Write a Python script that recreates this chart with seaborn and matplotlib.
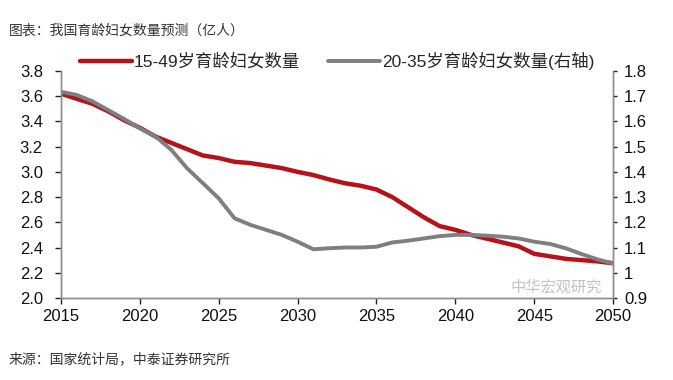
import pandas as pd
import seaborn as sns
import matplotlib.pyplot as plt

# data (亿人)
years = list(range(2015, 2051))
women_15_49 = [3.62, 3.58, 3.54, 3.48, 3.41, 3.35, 3.28, 3.23, 3.18, 3.13,
               3.11, 3.08, 3.07, 3.05, 3.03, 3.00, 2.975, 2.94, 2.91, 2.89,
               2.86, 2.80, 2.72, 2.64, 2.57, 2.54, 2.50, 2.47, 2.44, 2.41,
               2.35, 2.33, 2.31, 2.30, 2.29, 2.275]
women_20_35 = [1.718, 1.705, 1.68, 1.645, 1.61, 1.573, 1.54, 1.487, 1.414, 1.355,
               1.295, 1.216, 1.19, 1.17, 1.15, 1.123, 1.093, 1.097, 1.10, 1.10,
               1.103, 1.12, 1.127, 1.136, 1.145, 1.15, 1.15, 1.147, 1.143, 1.136,
               1.123, 1.114, 1.097, 1.074, 1.053, 1.037]

label_left = "15-49岁育龄妇女数量"
label_right = "20-35岁育龄妇女数量(右轴)"
title = "图表：我国育龄妇女数量预测（亿人）"
source = "来源：国家统计局，中泰证券研究所"

df = pd.DataFrame({"year": years, "a": women_15_49, "b": women_20_35})

sns.set_style("white")
plt.rcParams['font.family'] = ['Liberation Sans', 'Noto Sans CJK SC', 'DejaVu Sans']

fig = plt.figure(figsize=(6.73, 3.8), dpi=100)
ax = fig.add_axes([0.0906, 0.216, 0.8204, 0.597])
ax2 = ax.twinx()

red = "#B5121B"
grey = "#7F7F7F"
sns.lineplot(data=df, x="year", y="a", ax=ax, color=red, linewidth=3.2, label=label_left, legend=False)
sns.lineplot(data=df, x="year", y="b", ax=ax2, color=grey, linewidth=2.8, label=label_right, legend=False)

ax.set_xlim(2015, 2050)
ax.set_ylim(2.0, 3.8)
ax2.set_ylim(0.9, 1.8)
ax.set_xticks(range(2015, 2051, 5))
ax.set_yticks([2.0 + 0.2 * i for i in range(10)])
ax2.set_yticks([0.9 + 0.1 * i for i in range(10)])
ax.set_yticklabels([f"{2.0 + 0.2 * i:.1f}" for i in range(10)])
ax2.set_yticklabels([f"{0.9 + 0.1 * i:.1f}".replace("1.0", "1") for i in range(10)])
ax.set_xlabel("")
ax.set_ylabel("")
ax2.set_ylabel("")

for a in (ax, ax2):
    for s in a.spines.values():
        s.set_color("#8C8C8C")
        s.set_linewidth(1.0)
    a.spines["top"].set_visible(False)
    a.tick_params(labelsize=12, colors="#222222", length=4, width=1, direction="out")
    for t in a.get_xticklabels() + a.get_yticklabels():
        t.set_color("#111111")
ax.tick_params(axis="x", bottom=True, pad=4)
ax.tick_params(axis="y", left=True, pad=9)
ax2.tick_params(axis="y", right=True, pad=5, length=3)

handles = ax.get_lines()[:1] + ax2.get_lines()[:1]
leg = ax.legend(handles, [label_left, label_right], loc="lower center",
                bbox_to_anchor=(0.5, 0.975), ncol=2, frameon=False,
                fontsize=12.5, handlelength=3.0, handletextpad=0.1, columnspacing=1.6,
                borderaxespad=0)

fig.text(0.013, 0.91, title, fontsize=10, color="#333333",
         family=['Noto Sans CJK SC', 'DejaVu Sans'])
fig.text(0.013, 0.045, source, fontsize=10, color="#333333",
         family=['Noto Sans CJK SC', 'DejaVu Sans'])
fig.text(0.895, 0.232, "中华宏观研究", fontsize=11, color="#9a9a9a", alpha=0.6,
         ha="right", family=['Noto Sans CJK SC', 'DejaVu Sans'])

fig.savefig("out.png", dpi=100, facecolor="white")
